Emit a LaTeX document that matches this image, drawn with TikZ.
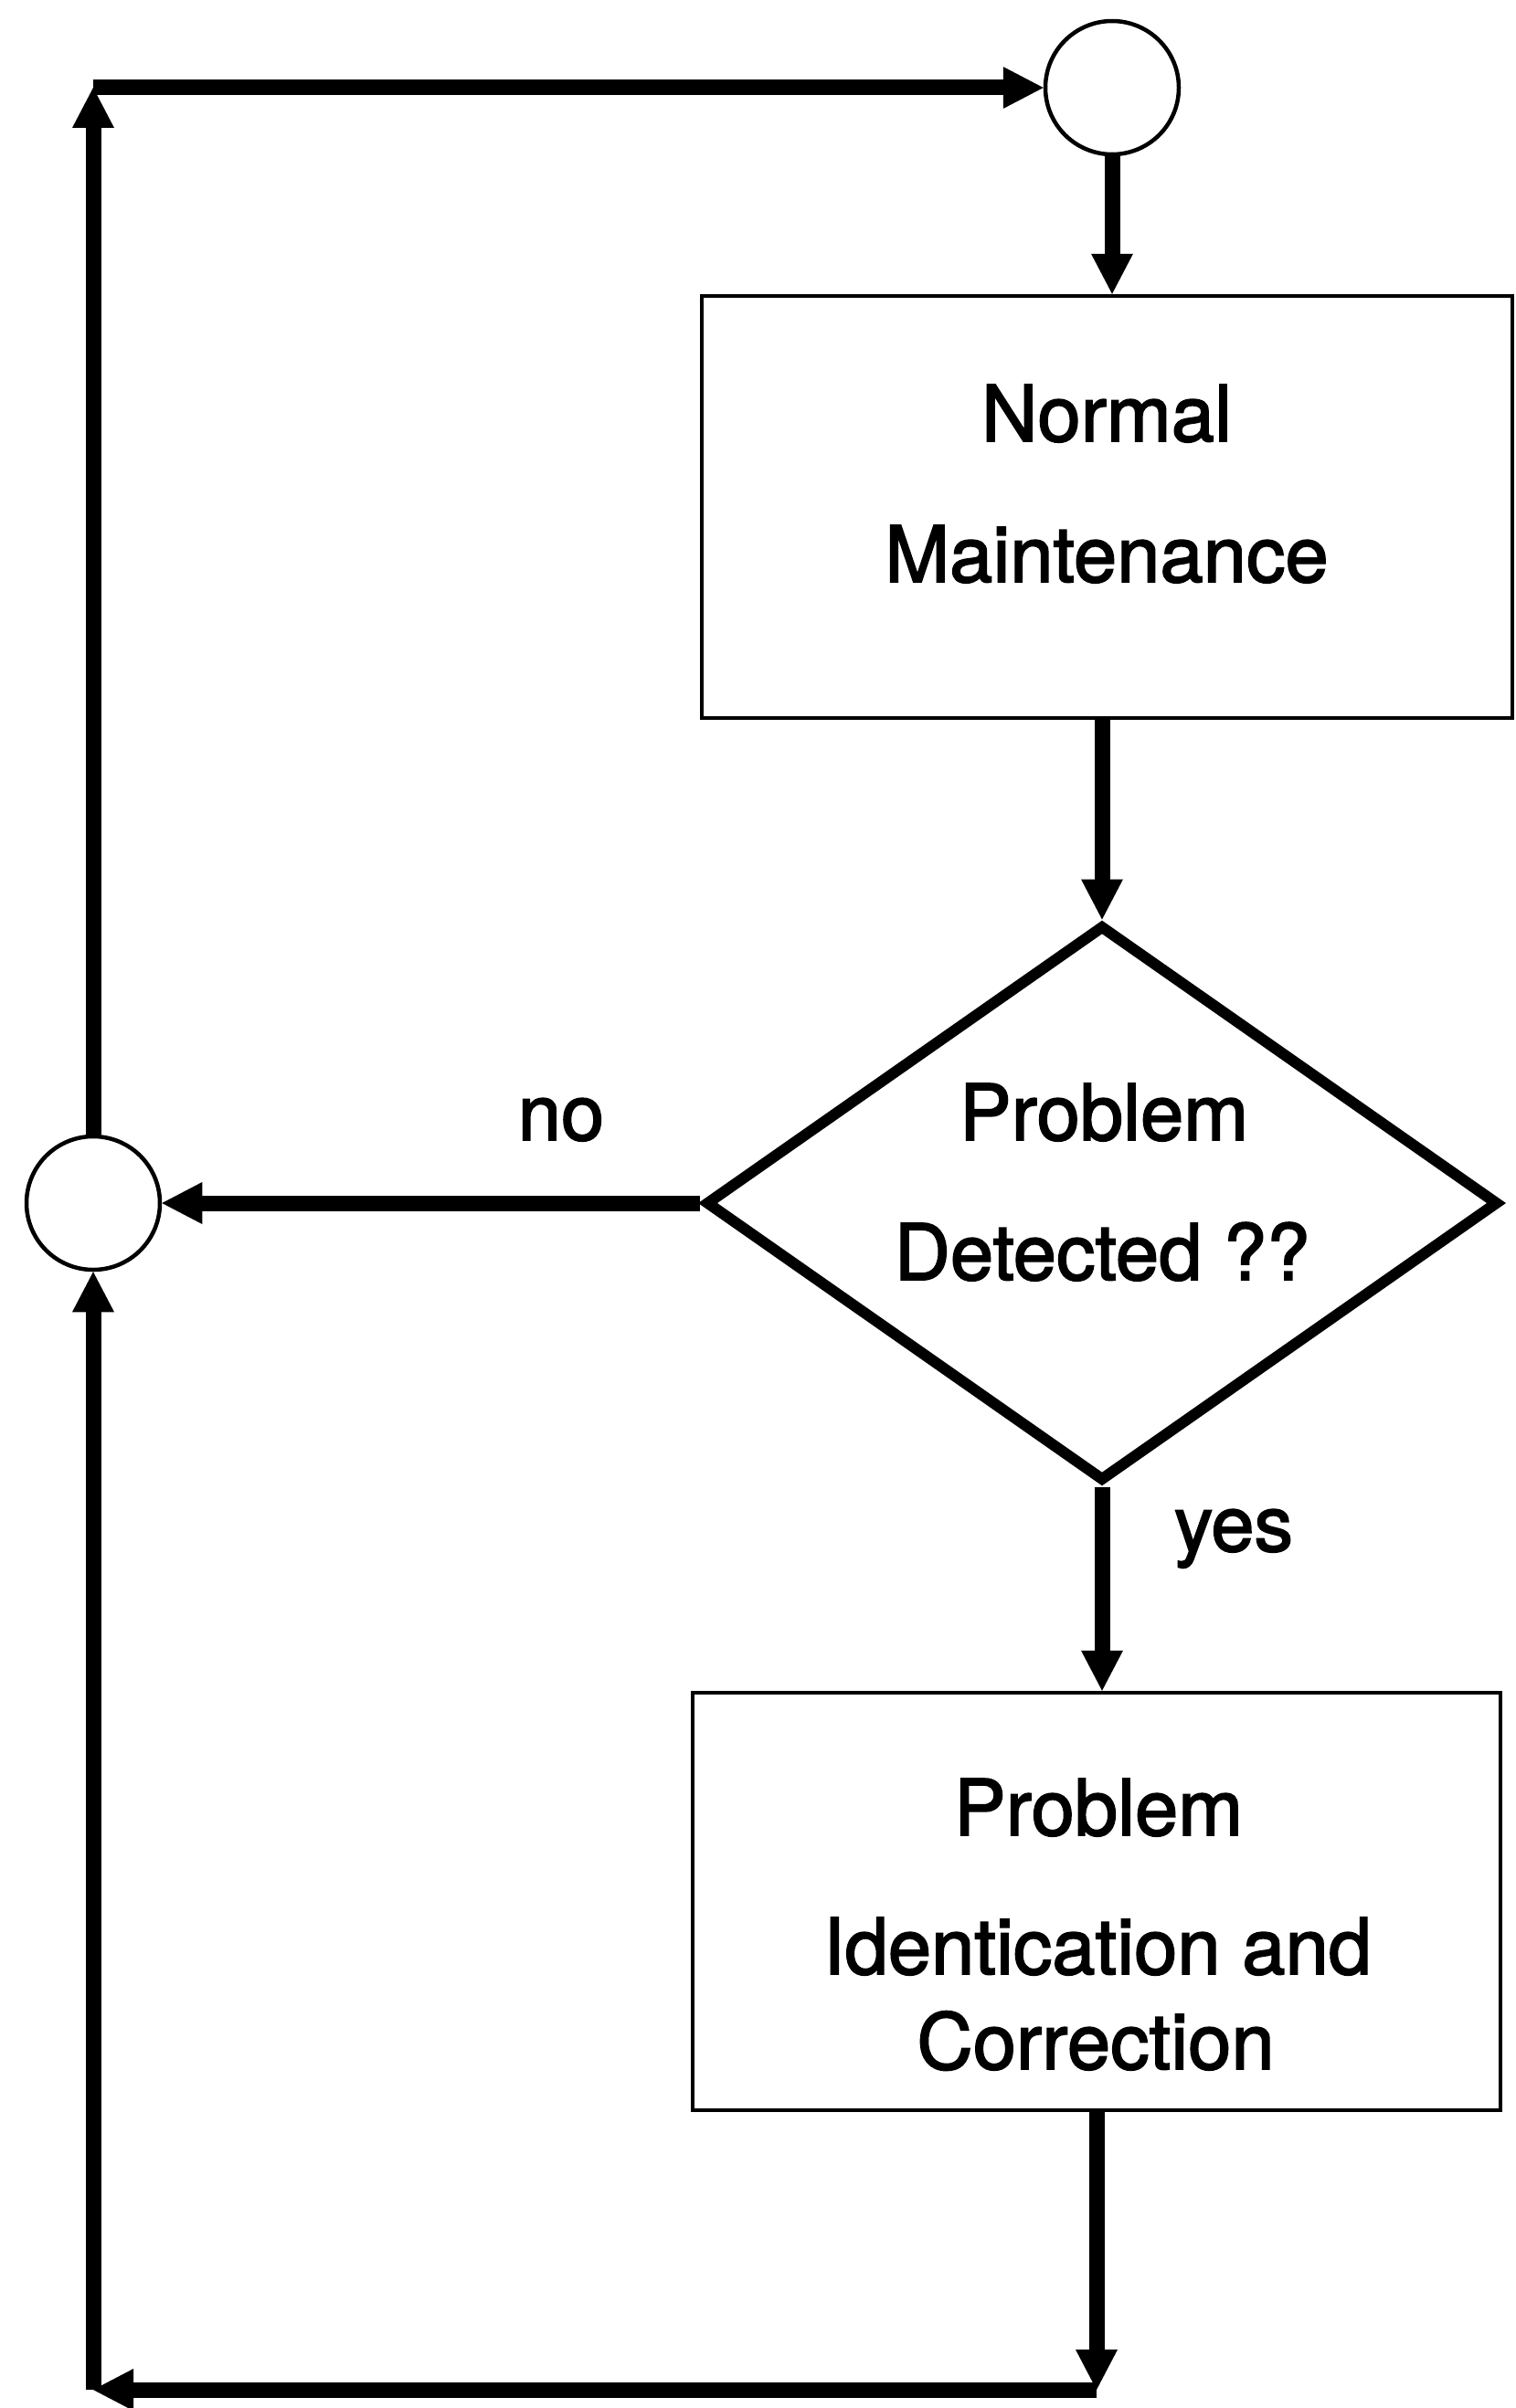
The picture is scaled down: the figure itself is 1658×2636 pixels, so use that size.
\documentclass[tikz,border=0pt]{standalone}
\usepackage{fontspec}
\setmainfont{TeX Gyre Heros}
\newfontfamily\capfont{TeX Gyre Heros}[FakeBold=2]
\usetikzlibrary{arrows.meta,shapes.geometric}
\begin{document}
\begin{tikzpicture}[x=1pt,y=-1pt,
  junction/.style={circle,draw,line width=4.5pt,minimum size=146pt,inner sep=0pt},
  stepbox/.style={rectangle,draw,line width=4.5pt,inner sep=0pt},
  decision/.style={diamond,draw,line width=12pt,inner sep=0pt,line join=miter},
  caption/.style={font=\capfont\fontsize{85}{100}\selectfont,inner sep=0pt,anchor=base},
  flow/.style={line width=17pt,-{Triangle[length=44pt,width=46pt,line width=0pt]}}
]
\useasboundingbox (0,0) rectangle (1658,2636);

% junction circles
\node[junction] (top) at (1217,96) {};
\node[junction] (merge) at (102,1317) {};

% process boxes and decision
\node[stepbox,minimum width=887pt,minimum height=462pt] (maint) at (1211.5,555) {};
\node[decision,minimum width=868pt,minimum height=609pt] (check) at (1206,1317) {};
\node[stepbox,minimum width=884pt,minimum height=457pt] (fix) at (1200,2081.5) {};

% texts
\node[caption] (maintA) at (1211,483) {Normal};
\node[caption] (maintB) at (1211,637) {Maintenance};
\node[caption] (checkA) at (1208,1248) {Problem};
\node[caption] (checkB) at (1206,1401) {Detected ??};
\node[caption] (fixA) at (1202,2009) {Problem};
\node[caption] (fixB) at (1201,2161) {Identication and};
\node[caption] (fixC) at (1199,2265) {Correction};
\node[caption] (no) at (614,1248) {no};
\node[caption] (yes) at (1350,1698) {yes};

% corner points of the return loops
\coordinate (downEnd) at (1200,2616);
\coordinate (cornerBL) at (merge.south |- downEnd);
\coordinate (cornerTL) at (merge.north |- top.west);

% connectors
\draw[flow] (top.south) -- (top.south |- maint.north);
\draw[flow] (check.north |- maint.south) -- (check.north);
\draw[flow] (check.west) -- (merge.east);
\draw[flow] (check.south) -- (check.south |- fix.north);
\draw[flow] (fix.south) -- (downEnd);
\draw[flow] (downEnd) -- (cornerBL);
\draw[flow] (cornerBL) -- (merge.south);
\draw[flow] (merge.north) -- (cornerTL);
\draw[flow] (cornerTL) -- (top.west);
\end{tikzpicture}
\end{document}
